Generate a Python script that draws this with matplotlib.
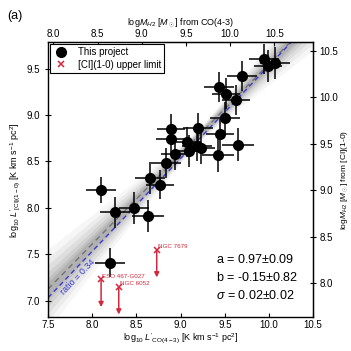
import numpy as np
import matplotlib
matplotlib.use("Agg")
import matplotlib.pyplot as plt

plt.rcParams['font.family'] = ['Liberation Sans', 'DejaVu Sans']
plt.rcParams['mathtext.fontset'] = 'custom'
plt.rcParams['mathtext.rm'] = 'Liberation Sans'
plt.rcParams['mathtext.it'] = 'Liberation Sans:italic'

# Detections
x_det = [9.94, 9.99, 10.07, 9.69, 9.44, 9.51, 9.63, 9.50, 9.20, 9.45, 9.65, 9.07,
         9.19, 9.23, 9.10, 9.42, 8.89, 8.89, 8.94, 8.83, 8.65, 8.77, 8.10, 8.26,
         8.47, 8.63, 8.20]
y_det = [9.60, 9.53, 9.56, 9.42, 9.30, 9.23, 9.16, 8.97, 8.86, 8.79, 8.68, 8.71,
         8.67, 8.64, 8.61, 8.57, 8.85, 8.74, 8.58, 8.48, 8.32, 8.25, 8.19, 7.95,
         8.00, 7.91, 7.41]
xerr_det = [0.17, 0.16, 0.17, 0.17, 0.17, 0.16, 0.16, 0.17, 0.17, 0.16, 0.18, 0.16,
            0.17, 0.16, 0.16, 0.18, 0.16, 0.17, 0.16, 0.17, 0.17, 0.16, 0.17, 0.17,
            0.17, 0.18, 0.17]
yerr_det = [0.16, 0.17, 0.17, 0.16, 0.16, 0.17, 0.16, 0.17, 0.16, 0.17, 0.18, 0.16,
            0.17, 0.17, 0.17, 0.18, 0.16, 0.16, 0.17, 0.16, 0.17, 0.16, 0.14, 0.17,
            0.17, 0.17, 0.16]

# Upper limits
lim_names = ["ESO 467-G027", "NGC 6052", "NGC 7679"]
x_lim = [8.10, 8.30, 8.73]
y_lim = [7.23, 7.15, 7.55]
arrow_len = 0.30

# Fit parameters
fit_a, fit_a_err = 0.97, 0.09
fit_b, fit_b_err = -0.15, 0.82
fit_sig, fit_sig_err = 0.02, 0.02
ratio = 0.34

top_offset = 0.44   # logM_H2 from CO(4-3) = x + offset
right_offset = 0.81  # logM_H2 from [CI](1-0) = y + offset

fig = plt.figure(figsize=(3.51, 3.51), dpi=100)
ax = fig.add_axes([0.137, 0.096, 0.755, 0.784])
ax.set_xlim(7.5, 10.5)
ax.set_ylim(6.82, 9.785)

# Fit band
xx = np.linspace(7.5, 10.5, 200)
x0 = 9.2
yfit = fit_a * xx + fit_b
sd = np.sqrt(0.02**2 + (fit_a_err * (xx - x0))**2)
for k, al in [(2.6, 0.06), (2.0, 0.08), (1.5, 0.10), (1.0, 0.13), (0.6, 0.16), (0.3, 0.2)]:
    ax.fill_between(xx, yfit - k * sd - 0.03, yfit + k * sd + 0.03, color='0.45',
                    alpha=al, lw=0, zorder=1)
ax.plot(xx, yfit, color='0.45', ls=(0, (4, 3)), lw=1.0, zorder=2)
ax.plot(xx, xx + np.log10(ratio), color='#3a3ad0', ls=(0, (3.5, 2.5)), lw=1.0, zorder=2)
ax.text(7.84, 7.25, "ratio = 0.34", color='#3a3ad0', fontsize=6.5, rotation=46,
        ha='center', va='center', rotation_mode='anchor', zorder=3)

# Detections
ax.errorbar(x_det, y_det, xerr=xerr_det, yerr=yerr_det, fmt='o', color='black',
            ms=7, elinewidth=1.1, capsize=0, zorder=5)

# Upper limits
red = '#d0283c'
h_lim, = ax.plot(x_lim, y_lim, 'x', color=red, ms=5, mew=1.1, zorder=6)
for xl, yl, nm in zip(x_lim, y_lim, lim_names):
    ax.annotate('', xy=(xl, yl - arrow_len), xytext=(xl, yl),
                arrowprops=dict(arrowstyle='-|>', color=red, lw=1.1,
                                mutation_scale=7, shrinkA=0, shrinkB=0), zorder=6)
    ax.text(xl + 0.01, yl + 0.03, nm, color=red, fontsize=4.5, ha='left', va='center',
            zorder=6)

# Fit text
ax.text(9.40, 7.44, r"a = 0.97$\pm$0.09", fontsize=9, va='center', ha='left')
ax.text(9.40, 7.25, r"b = -0.15$\pm$0.82", fontsize=9, va='center', ha='left')
ax.text(9.40, 7.05, r"$\sigma$ = 0.02$\pm$0.02", fontsize=9, va='center', ha='left')

h_pt, = ax.plot([], [], 'o', color='black', ms=7)
leg = ax.legend([h_pt, h_lim], ['This project', '[CI](1-0) upper limit'],
                loc='upper left', fontsize=7, frameon=True, fancybox=False,
                edgecolor='black', borderaxespad=0.2, handletextpad=1.0,
                borderpad=0.3, labelspacing=0.3, handlelength=1.6)
leg.get_frame().set_linewidth(0.8)
leg.get_frame().set_alpha(1)

ax.set_xticks([7.5, 8.0, 8.5, 9.0, 9.5, 10.0, 10.5])
ax.set_yticks([7.0, 7.5, 8.0, 8.5, 9.0, 9.5])
ax.tick_params(axis='x', direction='in', length=3, labelsize=7, top=False, pad=2)
ax.tick_params(axis='y', direction='inout', length=5, labelsize=7, right=False)
for s in ax.spines.values():
    s.set_linewidth(1.0)

ax.set_xlabel(r"log$_{10}$ $L'_{\rm CO(4-3)}$ [K km s$^{-1}$ pc$^{2}$]", fontsize=6.5, labelpad=1)
ax.set_ylabel(r"log$_{10}$ $L'_{\rm [CI](1-0)}$ [K km s$^{-1}$ pc$^{2}$]", fontsize=6.5, labelpad=3)

secx = ax.secondary_xaxis('top', functions=(lambda x: x + top_offset, lambda x: x - top_offset))
secx.set_xticks([8.0, 8.5, 9.0, 9.5, 10.0, 10.5])
secx.tick_params(direction='in', length=3, labelsize=7, pad=2)
secx.set_xlabel(r"log$M_{H2}$ [$M_\odot$] from CO(4-3)", fontsize=6.5, labelpad=3)

secy = ax.secondary_yaxis('right', functions=(lambda y: y + right_offset, lambda y: y - right_offset))
secy.set_yticks([8.0, 8.5, 9.0, 9.5, 10.0, 10.5])
secy.tick_params(direction='inout', length=5, labelsize=7, pad=2)
secy.set_ylabel(r"log$M_{H2}$ [$M_\odot$] from [CI](1-0)", fontsize=6, labelpad=1)

fig.text(0.02, 0.955, "(a)", fontsize=9, ha='left', va='center')

fig.savefig("out.png", dpi=100)
